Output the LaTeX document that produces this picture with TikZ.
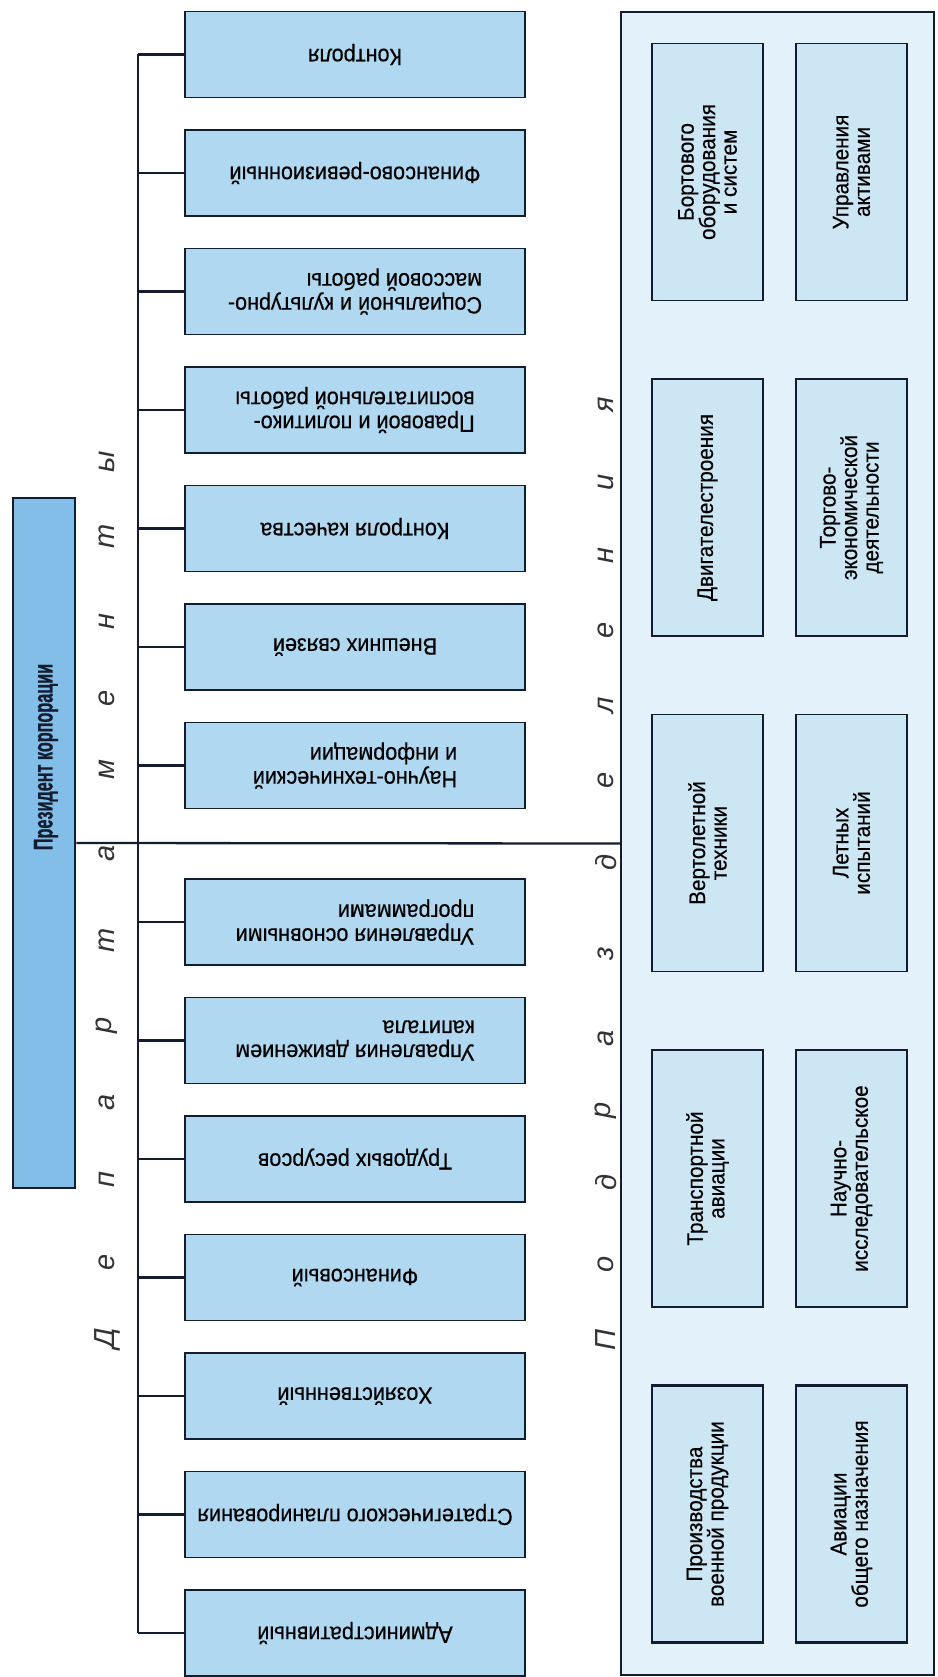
\documentclass[tikz,border=0pt]{standalone}
\usepackage{fontspec}
\setmainfont{Liberation Sans}[FakeStretch=0.9]
\newfontfamily\narrowfont{Liberation Sans}[FakeStretch=0.92, FakeBold=0.4]
\newfontfamily\presfont{Liberation Sans Bold}[FakeStretch=0.6, FakeBold=0.8]
\newfontfamily\wordfont{Liberation Sans}
\definecolor{ink}{HTML}{141C30}
\definecolor{presfill}{HTML}{82BEE8}
\definecolor{deptfill}{HTML}{B0D8F0}
\definecolor{subfill}{HTML}{E3F2FA}
\definecolor{unitfill}{HTML}{CCE6F4}
\begin{document}
\begin{tikzpicture}[x=1pt,y=-1pt,
  link/.style={draw=ink, line width=2.3pt},
  presbox/.style={draw=ink, line width=2.8pt, fill=presfill, minimum width=62pt, minimum height=690pt, inner sep=0pt},
  prestext/.style={rotate=90, font=\presfont\fontsize{27}{29}\selectfont, text=ink, inner sep=0pt},
  dept/.style={draw=ink, line width=1.7pt, fill=deptfill, minimum width=340pt, minimum height=86pt,
    rotate=180, align=left, inner sep=0pt, text=black, font=\narrowfont\fontsize{23.5}{24}\selectfont},
  subbox/.style={draw=ink, line width=2.2pt, fill=subfill, minimum width=313pt, minimum height=1663pt, inner sep=0pt},
  unit/.style={draw=ink, fill=unitfill, minimum width=257pt, minimum height=111pt,
    rotate=90, align=center, inner sep=0pt, text=black, font=\narrowfont\fontsize{22.5}{21.5}\selectfont},
  heavy/.style={line width=2.4pt},
  light/.style={line width=1.2pt},
  letter/.style={rotate=90, inner sep=0pt, text=black!80, font=\wordfont\itshape\fontsize{29}{29}\selectfont}
]
% page
\fill[white] (0,0) rectangle (937,1677);
\path[use as bounding box] (0,0) rectangle (937,1677);

% president
\node[presbox] (pres) at (44,843) {};
\node[prestext] (prestxt) at (46,757) {Президент корпорации};

% subdivisions frame
\node[subbox] (sub) at (777.5,843.5) {};

% departments
\foreach \i/\yy/\txt in {
  1/54.5/{Контроля},
  2/173/{Финансово-ревизионный},
  3/291.5/{Социальной и культурно-\\массовой работы},
  4/410/{Правовой и политико-\\воспитательной работы},
  5/528.5/{Контроля качества},
  6/647/{Внешних связей},
  7/765.5/{Научно-технический\\и информации},
  8/922/{Управления основными\\программами},
  9/1040.5/{Управления движением\\капитала},
  10/1159/{Трудовых ресурсов},
  11/1277.5/{Финансовый},
  12/1396/{Хозяйственный},
  13/1514.5/{Стратегического планирования},
  14/1633/{Административный}}
  \node[dept] (d\i) at (355,\yy) {\txt};

% department bus
\coordinate (trunk) at (138,0);
\draw[link] (trunk |- d1) -- (trunk |- d14);
\foreach \i in {1,...,14}
  \draw[link] (trunk |- d\i) -- (d\i);
\draw[link] (pres.east) -- (sub.west);

% units inside the frame
\node[unit,light] (u11) at (707.5,172)  {Бортового\\оборудования\\и систем};
\node[unit,light] (u12) at (851.5,172)  {Управления\\активами};
\node[unit,heavy] (u21) at (707.5,507.5) {Двигателестроения};
\node[unit,heavy] (u22) at (851.5,507.5) {Торгово-\\экономической\\деятельности};
\node[unit,light] (u31) at (707.5,843)  {Вертолетной\\техники};
\node[unit,light] (u32) at (851.5,843)  {Летных\\испытаний};
\node[unit,heavy] (u41) at (707.5,1178.5) {Транспортной\\авиации};
\node[unit,heavy] (u42) at (851.5,1178.5) {Научно-\\исследовательское};
\node[unit,heavy] (u51) at (707.5,1514) {Производства\\военной продукции};
\node[unit,heavy] (u52) at (851.5,1514) {Авиации\\общего назначения};

% spaced captions
\foreach \ch/\yy [count=\k] in {Д/1338,е/1262,п/1180,а/1102,р/1025,т/940,а/853,м/770,е/698,н/622,т/536,ы/462}
  \node[letter] (dl\k) at (107,\yy) {\ch};
\foreach \ch/\yy [count=\k] in {П/1340,о/1264,д/1182,р/1110,а/1038,з/954,д/862,е/780,л/705,е/630,н/556,и/482,я/405}
  \node[letter] (sl\k) at (606,\yy) {\ch};
\end{tikzpicture}
\end{document}
